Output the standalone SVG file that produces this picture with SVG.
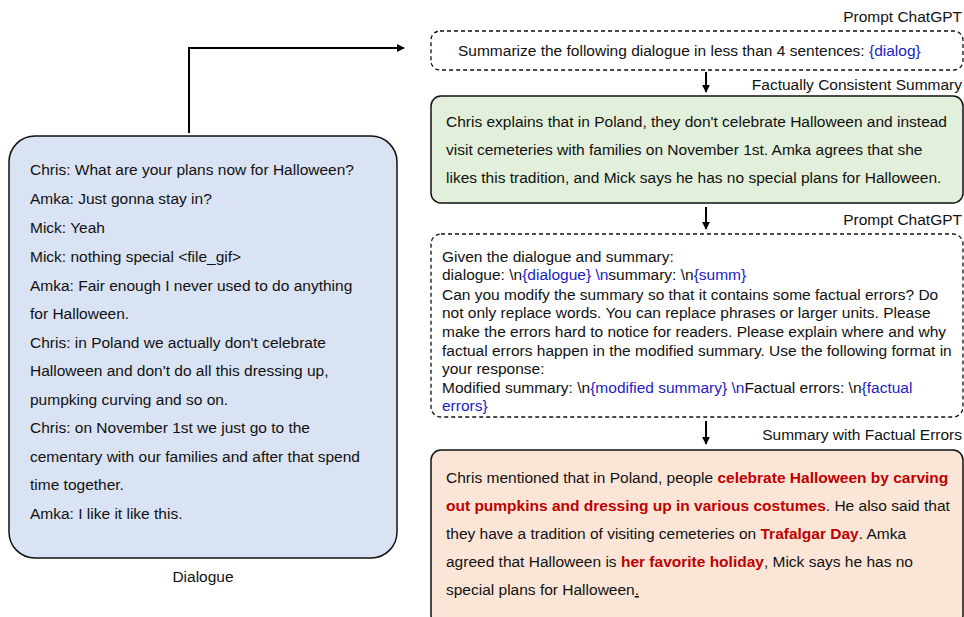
<svg xmlns="http://www.w3.org/2000/svg" width="964" height="617" viewBox="0 0 964 617">
<style>
text{font-family:"Liberation Sans",Arial,sans-serif;font-size:15.5px;fill:#111}
.lbl{text-anchor:end}
.b{fill:#1c1cc4}
.r{fill:#c00000;font-weight:bold}
.box{stroke:#111;stroke-width:1.5}
.dash{fill:#fff;stroke:#111;stroke-width:1.3;stroke-dasharray:4 3}
.conn{fill:none;stroke:#000;stroke-width:2}
</style>
<defs>
<marker id="ah2" viewBox="0 0 10 10" refX="9" refY="5" markerWidth="4" markerHeight="4" orient="auto">
<path d="M0,0 L10,5 L0,10 z" fill="#000"/>
</marker>
</defs>
<g id="connectors">
<path class="conn" d="M189,133 V48 H404" marker-end="url(#ah2)"/>
<path class="conn" d="M706,72 V92" marker-end="url(#ah2)"/>
<path class="conn" d="M706,207 V229" marker-end="url(#ah2)"/>
<path class="conn" d="M706,421 V444" marker-end="url(#ah2)"/>
</g>
<g id="dialogue">
<rect class="box" x="9" y="136" width="388" height="422" rx="26" fill="#dae3f3"/>
<text x="30" y="175">Chris: What are your plans now for Halloween?</text>
<text x="30" y="204">Amka: Just gonna stay in?</text>
<text x="30" y="233">Mick: Yeah</text>
<text x="30" y="262">Mick: nothing special &lt;file_gif&gt;</text>
<text x="30" y="291">Amka: Fair enough I never used to do anything</text>
<text x="30" y="319">for Halloween.</text>
<text x="30" y="348">Chris: in Poland we actually don't celebrate</text>
<text x="30" y="376">Halloween and don't do all this dressing up,</text>
<text x="30" y="405">pumpking curving and so on.</text>
<text x="30" y="433">Chris: on November 1st we just go to the</text>
<text x="30" y="462">cementary with our families and after that spend</text>
<text x="30" y="490">time together.</text>
<text x="30" y="519">Amka: I like it like this.</text>
<text x="203" y="582" text-anchor="middle">Dialogue</text>
</g>
<g id="prompt1">
<text class="lbl" x="962" y="22">Prompt ChatGPT</text>
<rect class="dash" x="431" y="31" width="532" height="39" rx="9"/>
<text x="458" y="56">Summarize the following dialogue in less than 4 sentences: <tspan class="b">{dialog}</tspan></text>
</g>
<g id="summary">
<text class="lbl" x="962" y="90">Factually Consistent Summary</text>
<rect class="box" x="431" y="96" width="532" height="107" rx="10" fill="#e2efda"/>
<text x="446" y="127">Chris explains that in Poland, they don't celebrate Halloween and instead</text>
<text x="446" y="155">visit cemeteries with families on November 1st. Amka agrees that she</text>
<text x="446" y="183">likes this tradition, and Mick says he has no special plans for Halloween.</text>
</g>
<g id="prompt2">
<text class="lbl" x="962" y="225">Prompt ChatGPT</text>
<rect class="dash" x="431" y="234" width="532" height="183" rx="10"/>
<text x="442" y="262">Given the dialogue and summary:</text>
<text x="442" y="280">dialogue: \n<tspan class="b">{dialogue} \n</tspan>summary: \n<tspan class="b">{summ}</tspan></text>
<text x="442" y="300">Can you modify the summary so that it contains some factual errors? Do</text>
<text x="442" y="318">not only replace words. You can replace phrases or larger units. Please</text>
<text x="442" y="337">make the errors hard to notice for readers. Please explain where and why</text>
<text x="442" y="356">factual errors happen in the modified summary. Use the following format in</text>
<text x="442" y="374">your response:</text>
<text x="442" y="393">Modified summary: \n<tspan class="b">{modified summary} \n</tspan>Factual errors: \n<tspan class="b">{factual</tspan></text>
<text class="b" x="442" y="411">errors}</text>
</g>
<g id="errors">
<text class="lbl" x="962" y="440">Summary with Factual Errors</text>
<rect class="box" x="431" y="450" width="532" height="175" rx="10" fill="#fbe5d6"/>
<text x="446" y="483">Chris mentioned that in Poland, people <tspan class="r">celebrate Halloween by carving</tspan></text>
<text x="446" y="511"><tspan class="r">out pumpkins and dressing up in various costumes</tspan>. He also said that</text>
<text x="446" y="539">they have a tradition of visiting cemeteries on <tspan class="r">Trafalgar Day</tspan>. Amka</text>
<text x="446" y="567">agreed that Halloween is <tspan class="r">her favorite holiday</tspan>, Mick says he has no</text>
<text x="446" y="595">special plans for Halloween<tspan text-decoration="underline">.</tspan></text>
</g>
</svg>
